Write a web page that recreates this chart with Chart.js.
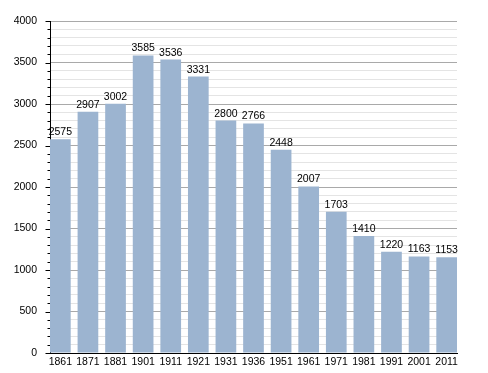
<!DOCTYPE html>
<html>
<head>
<meta charset="utf-8">
<script src="https://cdn.jsdelivr.net/npm/chart.js@4/dist/chart.umd.min.js"></script>
<style>
html,body{margin:0;padding:0;background:#fff;}
#wrap{width:488px;height:373px;position:relative;}
</style>
</head>
<body>
<div id="wrap"><canvas id="c" width="488" height="373"></canvas></div>
<script>
const years = ['1861','1871','1881','1901','1911','1921','1931','1936','1951','1961','1971','1981','1991','2001','2011'];
const population = [2575,2907,3002,3585,3536,3331,2800,2766,2448,2007,1703,1410,1220,1163,1153];
const yTickValues = [0,500,1000,1500,2000,2500,3000,3500,4000];

const FONT = '"Liberation Sans", Arial, Helvetica, sans-serif';

const extras = {
  id: 'extras',
  afterDatasetsDraw(chart) {
    const ctx = chart.ctx;
    const y = chart.scales.y;
    const axisX = chart.chartArea.left;
    ctx.save();
    ctx.strokeStyle = '#000';
    ctx.lineWidth = 1;
    for (let v = 0; v <= 4000; v += 100) {
      const py = Math.round(y.getPixelForValue(v)) + 0.5;
      const len = (v % 500 === 0) ? 4.5 : 2.5;
      ctx.beginPath();
      ctx.moveTo(axisX - len, py);
      ctx.lineTo(axisX, py);
      ctx.stroke();
    }
    ctx.fillStyle = '#000';
    ctx.font = '10.5px ' + FONT;
    ctx.textAlign = 'center';
    ctx.textBaseline = 'alphabetic';
    const meta = chart.getDatasetMeta(0);
    meta.data.forEach((bar, i) => {
      ctx.fillText(String(population[i]), bar.x, bar.y - 4);
    });
    ctx.restore();
  }
};

new Chart(document.getElementById('c'), {
  type: 'bar',
  data: {
    datasets: [{
      data: years.map((yr, i) => ({x: i, y: population[i]})),
      backgroundColor: 'rgb(156,180,208)',
      borderWidth: 0,
      barPercentage: 0.75,
      categoryPercentage: 1.0
    }]
  },
  options: {
    responsive: false,
    animation: false,
    devicePixelRatio: 1,
    layout: { padding: { left: 0, right: 31, top: 21, bottom: 0 } },
    plugins: { legend: { display: false }, tooltip: { enabled: false } },
    scales: {
      x: {
        type: 'linear',
        offset: false,
        min: -0.375,
        max: 14.375,
        afterBuildTicks: s => { s.ticks = years.map((_, i) => ({ value: i })); },
        afterFit: s => { s.height = 20; },
        grid: { display: false, drawTicks: false, offset: false },
        border: { display: true, color: '#000', width: 1 },
        ticks: {
          autoSkip: false,
          maxRotation: 0,
          padding: 3,
          color: '#000',
          font: { size: 10.5, family: FONT },
          callback: v => years[v] !== undefined ? years[v] : ''
        }
      },
      y: {
        min: 0,
        max: 4000,
        afterBuildTicks: s => {
          const t = [];
          for (let v = 0; v <= 4000; v += 100) t.push({ value: v });
          s.ticks = t;
        },
        afterFit: s => { s.width = 50; },
        grid: {
          drawTicks: false,
          color: ctx => (ctx.tick && ctx.tick.value % 500 === 0) ? '#a9a9a9' : '#e4e4e4',
          lineWidth: 1
        },
        border: { display: true, color: '#000', width: 1 },
        ticks: {
          autoSkip: false,
          padding: 13,
          color: '#000',
          font: { size: 10.5, family: FONT },
          callback: v => yTickValues.includes(v) ? String(v) : ''
        }
      }
    }
  },
  plugins: [extras]
});
</script>
</body>
</html>
